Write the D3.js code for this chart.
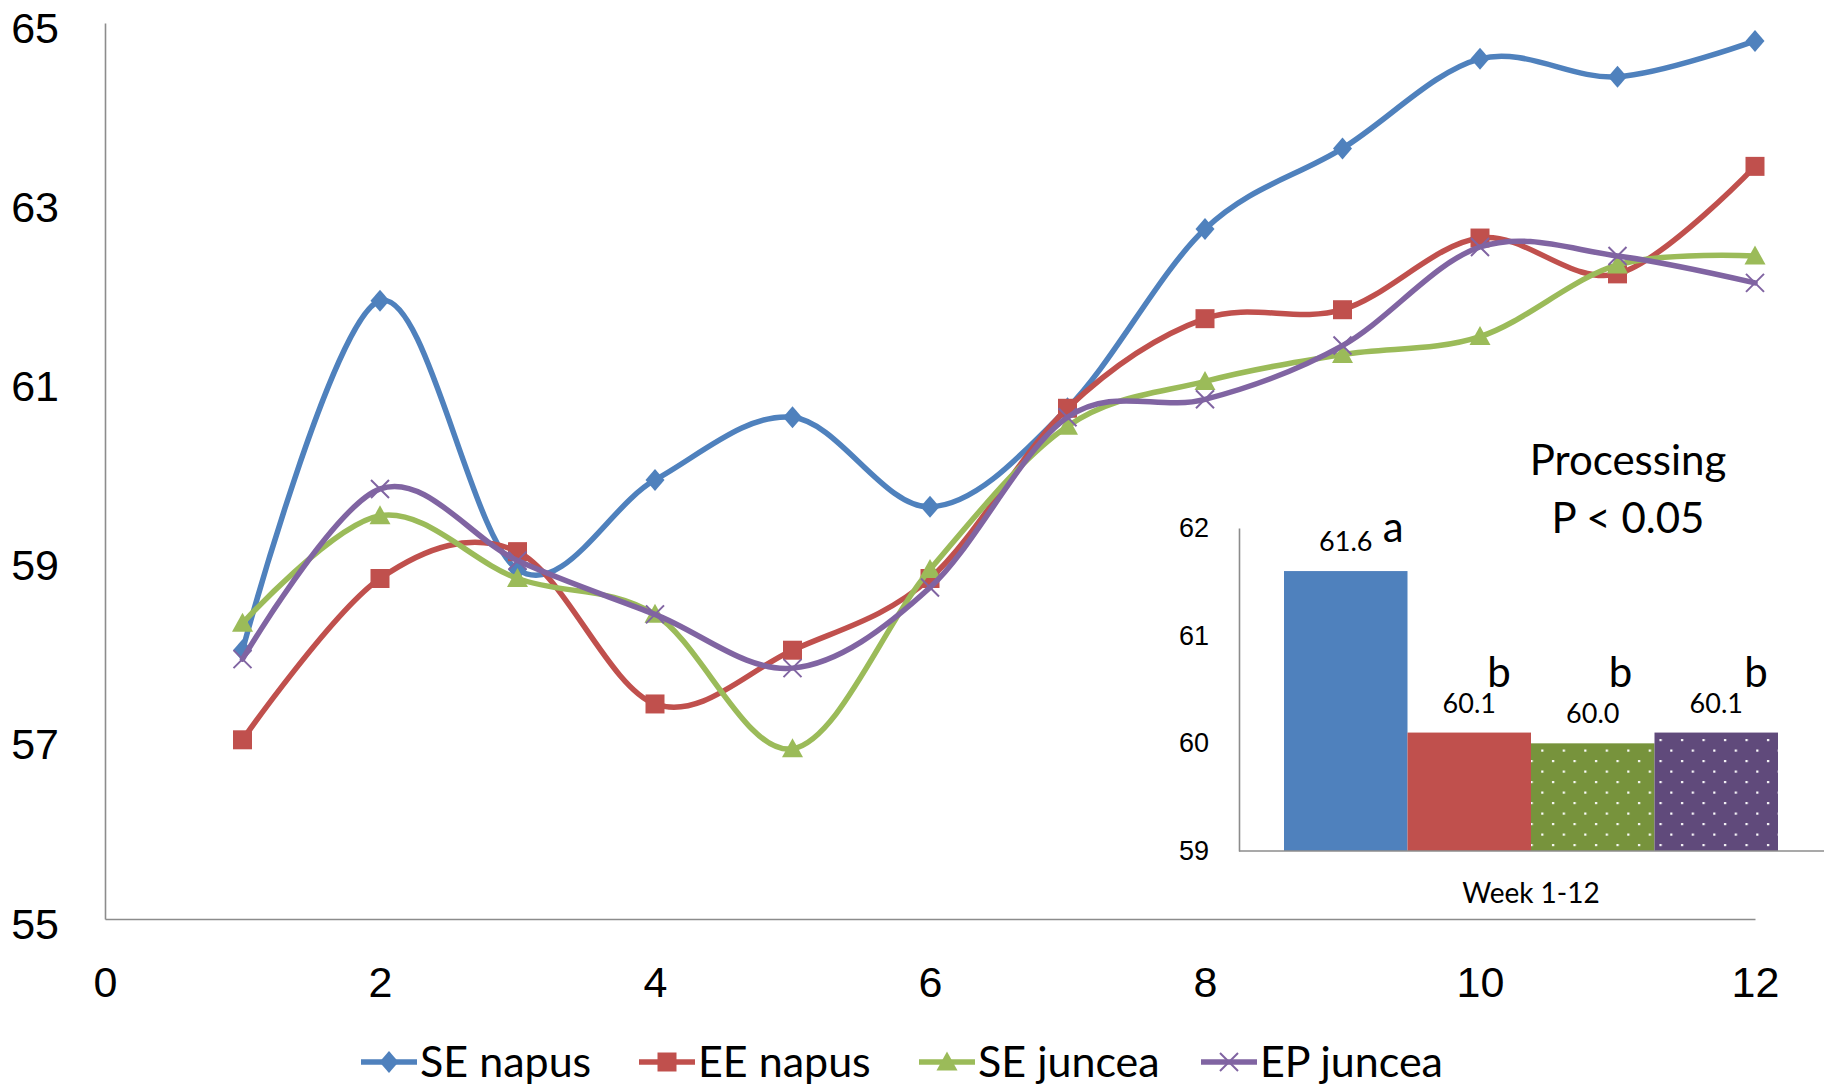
<!DOCTYPE html>
<html>
<head>
<meta charset="utf-8">
<script src="https://cdn.jsdelivr.net/npm/d3@7"></script>
<style>
  body { margin: 0; background: #fff; }
  svg { display: block; font-family: Lato, "Open Sans", sans-serif; }
</style>
</head>
<body>
<script>
// Weekly values per treatment
const weeks = [1, 2, 3, 4, 5, 6, 7, 8, 9, 10, 11, 12];
const seNapus  = [58.0, 61.9, 58.9, 59.9, 60.6, 59.6, 60.7, 62.7, 63.6, 64.6, 64.4, 64.8];
const eeNapus  = [57.0, 58.8, 59.1, 57.4, 58.0, 58.8, 60.7, 61.7, 61.8, 62.6, 62.2, 63.4];
const seJuncea = [58.3, 59.5, 58.8, 58.4, 56.9, 58.9, 60.5, 61.0, 61.3, 61.5, 62.3, 62.4];
const epJuncea = [57.9, 59.8, 59.0, 58.4, 57.8, 58.7, 60.6, 60.8, 61.4, 62.5, 62.4, 62.1];

const seriesNames = ["SE napus", "EE napus", "SE juncea", "EP juncea"];

// Means over weeks 1-12 with significance letters
const overallMeans = [61.6, 60.1, 60.0, 60.1];
const meanLabels = ["61.6", "60.1", "60.0", "60.1"];
const groupLetters = ["a", "b", "b", "b"];

const yTicks = [55, 57, 59, 61, 63, 65];
const xTicks = [0, 2, 4, 6, 8, 10, 12];
const insetTicks = [59, 60, 61, 62];
const insetCategory = "Week 1-12";
const insetTitle = ["Processing", "P < 0.05"];

const W = 1828, H = 1087;
const lineColors = ["#4F81BD", "#C0504D", "#9BBB59", "#8064A2"];
const barColors  = ["#4F81BD", "#C0504D", "#77933C", "#604A7B"];
const markerKinds = ["diamond", "square", "triangle", "cross"];
const axisColor = "#8c8c8c";

const svg = d3.select("body").append("svg").attr("width", W).attr("height", H);

const defs = svg.append("defs");
// dotted fills for the juncea bars
[2, 3].forEach(i => {
  const p = defs.append("pattern").attr("id", "dots" + i)
    .attr("patternUnits", "userSpaceOnUse").attr("width", 21.5).attr("height", 21);
  p.append("rect").attr("width", 21.5).attr("height", 21).attr("fill", barColors[i]);
  p.append("rect").attr("x", 4).attr("y", 4).attr("width", 2.2).attr("height", 2.2).attr("fill", "#fff");
  p.append("rect").attr("x", 14.75).attr("y", 14.5).attr("width", 2.2).attr("height", 2.2).attr("fill", "#fff");
});

// ---- main line chart ----
const x = d3.scaleLinear().domain([0, 12]).range([105, 1755]);
const y = d3.scaleLinear().domain([55, 65]).range([919, 23]);

const yAxis = svg.append("g").attr("transform", `translate(${x(0)},0)`)
  .call(d3.axisLeft(y).tickValues(yTicks).tickSize(0).tickPadding(46).tickFormat(d3.format("d")));
const xAxis = svg.append("g").attr("transform", `translate(0,${y(55)})`)
  .call(d3.axisBottom(x).tickValues(xTicks).tickSize(0).tickPadding(47).tickFormat(d3.format("d")));
[yAxis, xAxis].forEach(g => {
  g.select(".domain").attr("stroke", axisColor).attr("stroke-width", 1.6);
  g.selectAll("text").attr("font-size", 43).attr("fill", "#000");
});
// keep the top label inside the page
yAxis.selectAll("text").attr("dy", "19px");

function markerPath(kind) {
  switch (kind) {
    case "diamond": return "M0,-11L9.5,0L0,11L-9.5,0Z";
    case "square": return "M-9.5,-9.5H9.5V9.5H-9.5Z";
    case "triangle": return "M0,-10.5L10.5,8.5L-10.5,8.5Z";
    default: return "M-9,-9L9,9M-9,9L9,-9";
  }
}
function drawMarker(g, kind, color, cx, cy) {
  const m = g.append("path").attr("d", markerPath(kind)).attr("transform", `translate(${cx},${cy})`);
  if (kind === "cross") m.attr("fill", "none").attr("stroke", color).attr("stroke-width", 2);
  else m.attr("fill", color);
}

const allSeries = [seNapus, eeNapus, seJuncea, epJuncea];
const line = d3.line().x((d, i) => x(weeks[i])).y(d => y(d)).curve(d3.curveCardinal.tension(0));

allSeries.forEach((vals, s) => {
  const g = svg.append("g");
  g.append("path").datum(vals).attr("d", line)
    .attr("fill", "none").attr("stroke", lineColors[s]).attr("stroke-width", 5.5)
    .attr("stroke-linejoin", "round").attr("stroke-linecap", "round");
  vals.forEach((v, i) => drawMarker(g, markerKinds[s], lineColors[s], x(weeks[i]), y(v)));
});

// ---- legend ----
const legendX = [361, 639, 919, 1201];
const legendY = 1062;
seriesNames.forEach((name, s) => {
  const g = svg.append("g").attr("transform", `translate(${legendX[s]},${legendY})`);
  g.append("line").attr("x1", 0).attr("x2", 56).attr("y1", 0).attr("y2", 0)
    .attr("stroke", lineColors[s]).attr("stroke-width", 5.5);
  drawMarker(g, markerKinds[s], lineColors[s], 28, 0);
  g.append("text").attr("x", 59).attr("y", 15).attr("font-size", 43).attr("fill", "#000").text(name);
});

// ---- inset bar chart of the overall means ----
const xi = d3.scaleBand().domain(seriesNames).range([1284, 1778]).padding(0);
const yi = d3.scaleLinear().domain([59, 62]).range([851, 528]);

const yiAxis = svg.append("g").attr("transform", "translate(1239,0)")
  .call(d3.axisLeft(yi).tickValues(insetTicks).tickSize(0).tickPadding(30).tickFormat(d3.format("d")));
yiAxis.select(".domain").attr("stroke", axisColor).attr("stroke-width", 1.6);
yiAxis.selectAll("text").attr("font-size", 27).attr("fill", "#000");

svg.append("g").selectAll("rect").data(overallMeans).join("rect")
  .attr("x", (d, i) => xi(seriesNames[i]))
  .attr("width", xi.bandwidth())
  .attr("y", d => yi(d))
  .attr("height", d => yi(59) - yi(d))
  .attr("fill", (d, i) => i >= 2 ? `url(#dots${i})` : barColors[i]);

svg.append("line").attr("x1", 1239).attr("x2", 1824).attr("y1", yi(59)).attr("y2", yi(59))
  .attr("stroke", axisColor).attr("stroke-width", 1.6);

svg.append("g").selectAll("text").data(overallMeans).join("text")
  .attr("x", (d, i) => xi(seriesNames[i]) + xi.bandwidth() / 2)
  .attr("y", d => yi(d) - 20)
  .attr("text-anchor", "middle").attr("font-size", 27).attr("fill", "#000")
  .text((d, i) => meanLabels[i]);

// significance letters
const letterDx = [37, 18, 16, 28];
svg.append("g").selectAll("text").data(groupLetters).join("text")
  .attr("x", (d, i) => xi(seriesNames[i]) + xi.bandwidth() / 2 + letterDx[i])
  .attr("y", (d, i) => d === "a" ? yi(overallMeans[i]) - 29 : yi(60.1) - 46)
  .attr("font-size", 42).attr("fill", "#000")
  .text(d => d);

svg.append("text").attr("x", 1531).attr("y", 903).attr("text-anchor", "middle")
  .attr("font-size", 28).attr("fill", "#000").text(insetCategory);

insetTitle.forEach((t, i) => {
  svg.append("text").attr("x", 1628).attr("y", 475 + i * 58).attr("text-anchor", "middle")
    .attr("font-size", 42).attr("fill", "#000").text(t);
});
</script>
</body>
</html>
